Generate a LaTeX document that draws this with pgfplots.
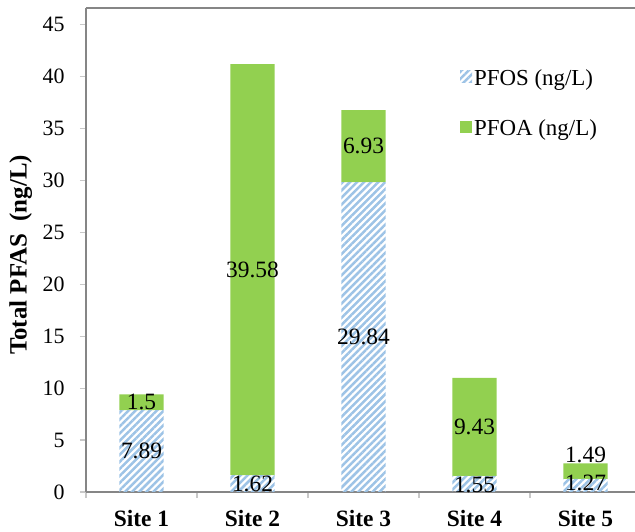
\documentclass[border=0pt]{standalone}
\usepackage{fontspec}
\setmainfont{Liberation Serif}
\usepackage{pgfplots}
\usepackage{pgfplotstable}
\pgfplotsset{compat=1.18}
\usetikzlibrary{patterns.meta}
\definecolor{pfos}{RGB}{157,195,230}
\definecolor{pfoa}{RGB}{146,208,80}
\definecolor{axgray}{RGB}{134,134,134}
\definecolor{tickgray}{RGB}{200,200,200}

\pgfplotstableread{
x pfos pfoa
0 7.89 1.5
1 1.62 39.58
2 29.84 6.93
3 1.55 9.43
4 1.27 1.49
}\data

\pgfplotstableread{
x y label
0 3.945 7.89
0 8.64 1.5
1 0.75 1.62
1 21.41 39.58
2 14.92 29.84
2 33.305 6.93
3 0.72 1.55
3 6.265 9.43
4 0.85 1.27
4 3.6 1.49
}\labels

\begin{document}
\begin{tikzpicture}
\begin{axis}[
  scale only axis, width=549bp, height=484bp,
  xmin=-0.5, xmax=4.446, ymin=0, ymax=46.6,
  ybar stacked, bar width=0.4,
  axis x line=box, axis y line=left,
  axis line style={-, draw=axgray, line width=2.5bp},
  tick pos=left, tick align=outside,
  xtick={0,1,2,3,4},
  xticklabels={Site 1,Site 2,Site 3,Site 4,Site 5},
  major x tick style={draw=none},
  minor xtick={-0.5,0.5,1.5,2.5,3.5},
  minor x tick style={draw=tickgray, line width=1.2bp},
  minor tick length=6bp,
  ytick={0,5,...,45},
  y tick style={draw=tickgray, line width=1.2bp},
  major tick length=6bp,
  /pgf/number format/assume math mode=true,
  yticklabel style={font=\fontsize{22}{25}\selectfont, xshift=-12bp},
  xticklabel style={font=\fontsize{23.5}{27}\selectfont\bfseries, yshift=-9bp},
  ylabel={Total PFAS~~(ng/L)},
  every axis y label/.style={at={(axis description cs:-0.119,0.49)}, rotate=90, anchor=center,
    font=\fontsize{25}{29}\selectfont\bfseries},
  legend style={draw=none, fill=none, at={(axis description cs:0.681,0.878)}, anchor=north west,
    font=\fontsize{23}{27}\selectfont, row sep=29bp, inner sep=0pt},
  legend cell align=left,
  legend image code/.code={\path[#1,draw=none] (0bp,-5bp) rectangle (12bp,7bp);},
]
\addplot[draw=none, pattern={Lines[angle=45,distance=5bp,line width=2.5bp]}, pattern color=pfos]
  table[x=x, y=pfos]{\data};
\addlegendentry{PFOS (ng/L)}
\addplot[draw=none, fill=pfoa]
  table[x=x, y=pfoa]{\data};
\addlegendentry{PFOA (ng/L)}
\end{axis}
\begin{axis}[
  scale only axis, width=549bp, height=484bp,
  xmin=-0.5, xmax=4.446, ymin=0, ymax=46.6,
  hide axis,
]
\addplot[draw=none, mark=none, nodes near coords, point meta=explicit symbolic,
  every node near coord/.append style={anchor=center, font=\fontsize{23.5}{27}\selectfont, text=black}]
  table[x=x, y=y, meta=label]{\labels};
\end{axis}
\pgfresetboundingbox
\path[use as bounding box] (-86bp,-40bp) rectangle (549bp,492bp);
\end{tikzpicture}
\end{document}
